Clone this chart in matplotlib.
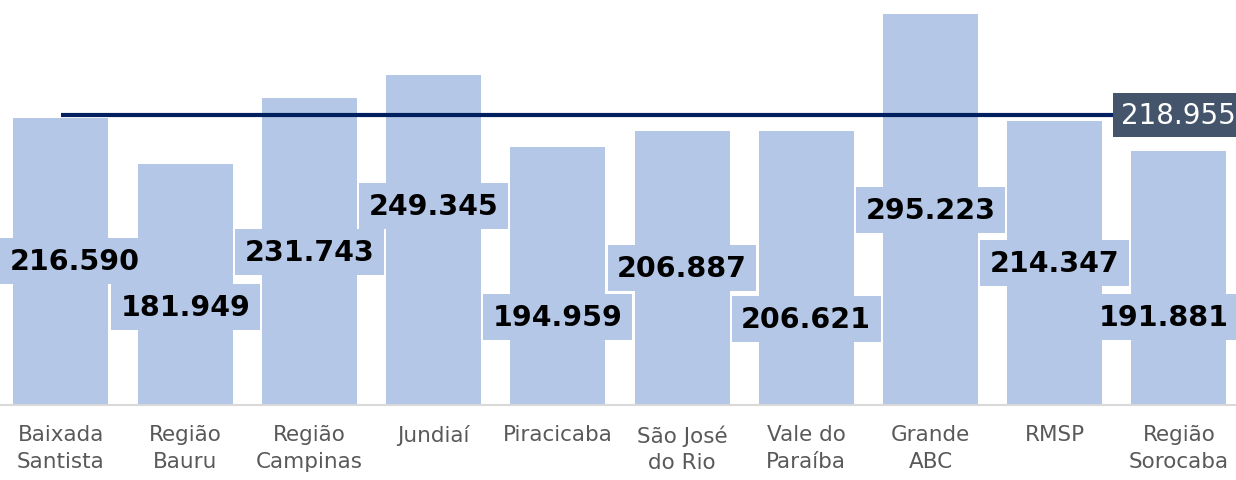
import numpy as np
import matplotlib.pyplot as plt

# dados
regioes = ["Baixada\nSantista", "Região\nBauru", "Região\nCampinas", "Jundiaí",
           "Piracicaba", "São José\ndo Rio", "Vale do\nParaíba", "Grande\nABC",
           "RMSP", "Região\nSorocaba"]
valores = [216.590, 181.949, 231.743, 249.345, 194.959,
           206.887, 206.621, 295.223, 214.347, 191.881]
media = 218.955

# posição vertical dos rótulos (como no original)
rotulo_y = [108.7, 74.0, 115.5, 150.3, 66.4, 103.4, 64.9, 147.2, 107.2, 66.4]
rotulo_dx = [0.11, 0, 0, 0, 0, 0, 0, 0, 0, -0.12]

cor_barra = "#B4C7E7"
x = np.arange(len(valores))

fig = plt.figure(figsize=(12.36, 4.81), dpi=100)
ax = fig.add_axes([0, 0.156, 1, 0.844])

ax.bar(x, valores, width=0.765, color=cor_barra, zorder=1)
ax.plot([x[0], x[-1]], [media, media], color="#002060", lw=3, zorder=2,
        solid_capstyle="butt")

for i, v in enumerate(valores):
    ax.text(x[i] + rotulo_dx[i], rotulo_y[i], f"{v:.3f}", ha="center", va="center",
            fontsize=20.5, fontweight="bold", color="black", zorder=3,
            bbox=dict(boxstyle="square,pad=0.33", fc=cor_barra, ec="none"))

ax.text(x[-1], media, f"{media:.3f}", ha="center", va="center", fontsize=20,
        color="white", zorder=4,
        bbox=dict(boxstyle="square,pad=0.3", fc="#44546A", ec="none"))

ax.set_xlim(-0.491, 9.46)
ax.set_ylim(0, 306.6)
ax.set_xticks(x)
ax.set_xticklabels(regioes, fontsize=15.5, color="#595959", linespacing=1.4)
ax.tick_params(axis="x", length=0, pad=14)
ax.set_yticks([])
for s in ["top", "right", "left"]:
    ax.spines[s].set_visible(False)
ax.spines["bottom"].set_color("#D9D9D9")
ax.spines["bottom"].set_linewidth(1.5)

fig.savefig("out.png", dpi=100)
